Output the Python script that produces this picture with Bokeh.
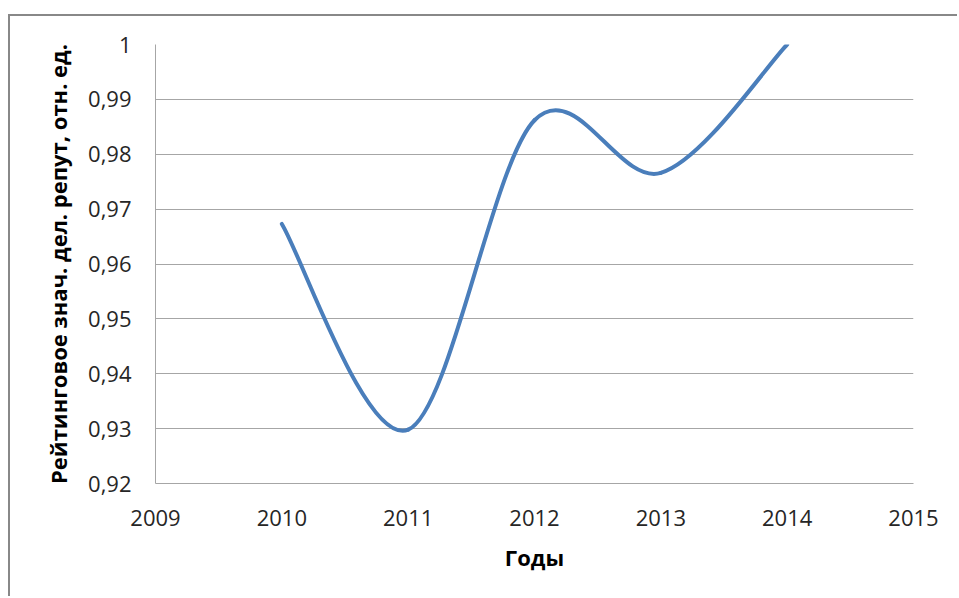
import numpy as np
from bokeh.plotting import figure
from bokeh.models import FixedTicker, CustomJSTickFormatter, Range1d
from bokeh.embed import file_html
from bokeh.resources import INLINE

# ---- data ----
years = [2010, 2011, 2012, 2013, 2014]
values = [0.9673, 0.9298, 0.9862, 0.9766, 1.0]
x_ticks = [2009, 2010, 2011, 2012, 2013, 2014, 2015]
y_ticks = [0.92, 0.93, 0.94, 0.95, 0.96, 0.97, 0.98, 0.99, 1.0]
y_title = "Рейтинговое знач. дел. репут, отн. ед."
x_title = "Годы"

FONT = "Open Sans"
TEXT_COLOR = "#262626"
GRID_COLOR = "#A6A6A6"
LINE_COLOR = "#4A7EBB"
BORDER = "2px solid #888888"

# host element offset (chart-area border at x=8..10, y=14..16)
OX, OY = 8, 14
p = figure(width=959 - OX - 2, height=598 - OY - 2, output_backend="svg",
           toolbar_location=None,
           x_range=Range1d(2009, 2015), y_range=Range1d(0.92, 1.0),
           min_border_left=155 - OX - 2, min_border_right=46,
           min_border_top=44 - OY - 2,
           min_border_bottom=598 - 483,
           margin=(OY, 0, 0, OX),
           styles={"border-left": BORDER, "border-top": BORDER})
p.outline_line_color = None
p.background_fill_color = "white"
p.border_fill_color = "white"

# Excel-style smoothed line: cubic Bezier segments built from the data points
xs = np.array(years, dtype=float)
ys = np.array(values, dtype=float)
n = len(xs)
x0, y0, x1, y1, cx0, cy0, cx1, cy1 = [], [], [], [], [], [], [], []
for i in range(n - 1):
    xp, yp = (xs[i - 1], ys[i - 1]) if i > 0 else (xs[i], ys[i])
    xn, yn = (xs[i + 2], ys[i + 2]) if i + 2 < n else (xs[i + 1], ys[i + 1])
    x0.append(xs[i]); y0.append(ys[i])
    x1.append(xs[i + 1]); y1.append(ys[i + 1])
    cx0.append(xs[i] + (xs[i + 1] - xp) / 6.0)
    cy0.append(ys[i] + (ys[i + 1] - yp) / 6.0)
    cx1.append(xs[i + 1] - (xn - xs[i]) / 6.0)
    cy1.append(ys[i + 1] - (yn - ys[i]) / 6.0)

p.bezier(x0=x0, y0=y0, x1=x1, y1=y1, cx0=cx0, cy0=cy0, cx1=cx1, cy1=cy1,
         line_color=LINE_COLOR, line_width=4, line_cap="round")

# axes
p.xaxis.ticker = FixedTicker(ticks=x_ticks)
p.yaxis.ticker = FixedTicker(ticks=y_ticks)
p.yaxis.formatter = CustomJSTickFormatter(
    code="return Math.abs(tick - 1) < 1e-9 ? '1' : tick.toFixed(2).replace('.', ',');")
p.xaxis.formatter = CustomJSTickFormatter(code="return tick.toFixed(0);")

for ax in (p.xaxis[0], p.yaxis[0]):
    ax.axis_line_color = GRID_COLOR
    ax.axis_line_width = 1
    ax.major_tick_line_color = None
    ax.minor_tick_line_color = None
    ax.major_tick_out = 0
    ax.major_tick_in = 0
    ax.major_label_text_font = FONT
    ax.major_label_text_font_size = "22px"
    ax.major_label_text_color = TEXT_COLOR
    ax.axis_label_text_font = FONT
    ax.axis_label_text_font_style = "bold"
    ax.axis_label_text_font_size = "22px"
    ax.axis_label_text_color = "black"

p.xaxis.axis_label = x_title
p.yaxis.axis_label = y_title
p.xaxis.major_label_standoff = 26
p.yaxis.major_label_standoff = 24
p.xaxis.axis_label_standoff = 13
p.yaxis.axis_label_standoff = 12

p.xgrid.visible = False
p.ygrid.grid_line_color = GRID_COLOR
p.ygrid.grid_line_width = 1

open("out.html", "w").write(file_html(p, INLINE))
